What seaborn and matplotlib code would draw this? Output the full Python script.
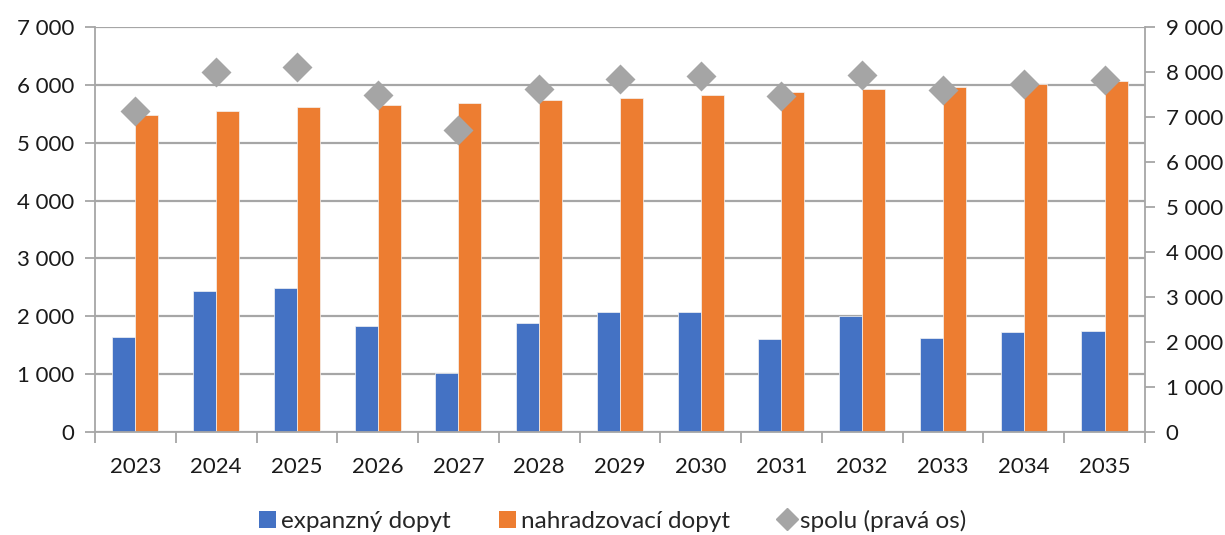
import matplotlib
matplotlib.use("Agg")
import matplotlib.pyplot as plt
from matplotlib.ticker import FuncFormatter, MultipleLocator, FixedLocator
from matplotlib.patches import Patch
from matplotlib.lines import Line2D
import seaborn as sns
import pandas as pd
import numpy as np

years = ["2023", "2024", "2025", "2026", "2027", "2028", "2029",
         "2030", "2031", "2032", "2033", "2034", "2035"]
expanzny = [1650, 2435, 2490, 1835, 1025, 1890, 2075,
            2080, 1600, 2010, 1630, 1720, 1750]
nahradzovaci = [5485, 5555, 5615, 5655, 5685, 5730, 5775,
                5830, 5875, 5925, 5965, 6015, 6065]
spolu = [7135, 7990, 8110, 7490, 6710, 7620, 7855,
         7910, 7475, 7935, 7595, 7735, 7815]

series_names = ["expanzný dopyt", "nahradzovací dopyt", "spolu (pravá os)"]
c_blue, c_orange, c_gray = "#4472C4", "#ED7D31", "#A5A5A5"
grid_col = "#A6A6A6"

sns.set_theme(style="white")
plt.rcParams["font.family"] = ["Lato", "DejaVu Sans"]

df = pd.DataFrame({
    "rok": years * 2,
    "hodnota": expanzny + nahradzovaci,
    "typ": [series_names[0]] * len(years) + [series_names[1]] * len(years),
})

fig = plt.figure(figsize=(12.25, 5.35), dpi=100)
ax = fig.add_axes([0.0776, 0.1925, 0.857, 0.757])

sns.barplot(data=df, x="rok", y="hodnota", hue="typ", order=years,
            hue_order=series_names[:2], palette=[c_blue, c_orange],
            saturation=1, width=0.57, edgecolor="#F4F4F4", linewidth=0.5,
            legend=False, ax=ax)

ax.set_ylim(0, 7000)
ax.yaxis.set_major_locator(MultipleLocator(1000))
fmt = FuncFormatter(lambda v, p: f"{v:,.0f}".replace(",", " "))
ax.yaxis.set_major_formatter(fmt)
ax.set_axisbelow(True)
ax.yaxis.grid(True, color=grid_col, linewidth=1.6)
ax.set_xlabel("")
ax.set_ylabel("")

for side in ["top", "right"]:
    ax.spines[side].set_visible(False)
for side in ["left", "bottom"]:
    ax.spines[side].set_color(grid_col)
    ax.spines[side].set_linewidth(1.3)

ax.tick_params(axis="y", which="major", length=7, width=1.3, color=grid_col,
               labelsize=16, labelcolor="#1a1a1a", pad=8, left=True)
ax.tick_params(axis="x", which="major", length=0, labelsize=16,
               labelcolor="#1a1a1a", pad=18)
ax.xaxis.set_minor_locator(FixedLocator(np.arange(-0.5, len(years), 1.0)))
ax.tick_params(axis="x", which="minor", length=8, width=1.3, color=grid_col,
               bottom=True)
ax.set_xlim(-0.5, len(years) - 0.5)

ax2 = ax.twinx()
sns.pointplot(x=years, y=spolu, order=years, color=c_gray, marker="D",
              markersize=13, linestyle="none", errorbar=None, ax=ax2)
ax2.set_ylim(0, 9000)
ax2.yaxis.set_major_locator(MultipleLocator(1000))
ax2.yaxis.set_major_formatter(fmt)
ax2.set_xlim(-0.5, len(years) - 0.5)
ax2.set_ylabel("")
for side in ["top", "left", "bottom"]:
    ax2.spines[side].set_visible(False)
ax2.spines["right"].set_color(grid_col)
ax2.spines["right"].set_linewidth(1.3)
ax2.tick_params(axis="y", length=7, width=1.3, color=grid_col, labelsize=16,
                labelcolor="#1a1a1a", pad=8, right=True)
ax2.grid(False)

handles = [
    Patch(facecolor=c_blue, edgecolor="none"),
    Patch(facecolor=c_orange, edgecolor="none"),
    Line2D([], [], color=c_gray, marker="D", linestyle="none", markersize=11),
]
fig.legend(handles, series_names, loc="lower center", ncol=3,
           bbox_to_anchor=(0.5, -0.035), frameon=False, fontsize=17.5,
           handlelength=0.7, handleheight=0.7, handletextpad=0.2,
           columnspacing=2.0)

fig.savefig("out.png", dpi=100)
